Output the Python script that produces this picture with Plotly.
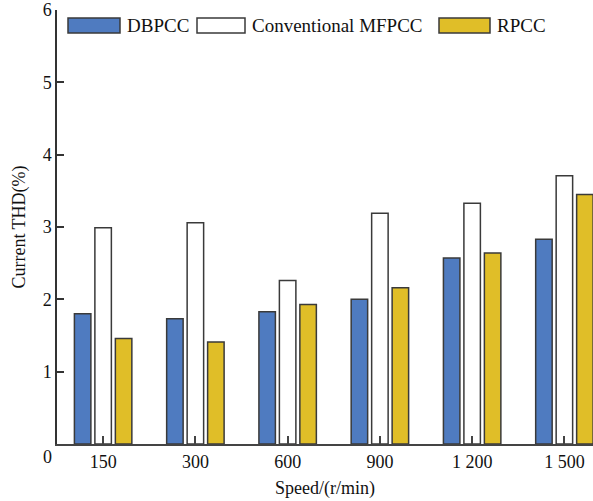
import plotly.graph_objects as go

categories = ["150", "300", "600", "900", "1 200", "1 500"]
series_names = ["DBPCC", "Conventional MFPCC", "RPCC"]
dbpcc = [1.80, 1.73, 1.83, 2.00, 2.57, 2.83]
mfpcc = [2.99, 3.06, 2.26, 3.19, 3.33, 3.71]
rpcc = [1.46, 1.41, 1.93, 2.16, 2.64, 3.45]
y_ticks = [1, 2, 3, 4, 5, 6]

colors = ["#4F7BC0", "#FFFFFF", "#E0BE28"]
values = [dbpcc, mfpcc, rpcc]
FONT = "Liberation Serif, Times New Roman, serif"

W, H = 593, 501
L, R, T, B = 57, 0, 10, 56.5
pw, ph = W - L - R, H - T - B

def px_x(px):
    return (px - L) / pw

def px_y(py):
    return (H - B - py) / ph

fig = go.Figure()
for name, vals, col in zip(series_names, values, colors):
    fig.add_trace(go.Bar(
        x=categories, y=vals, name=name,
        marker=dict(color=col, line=dict(color="#3a3a3a", width=1.5)),
        showlegend=False,
    ))

# manual legend (large swatches like the reference)
legend_items = [
    (series_names[0], colors[0], 68, 120, 125),
    (series_names[1], colors[1], 197, 245, 250),
    (series_names[2], colors[2], 439, 490, 495),
]
for name, col, x0, x1, tx in legend_items:
    fig.add_shape(type="rect", xref="paper", yref="paper",
                  x0=px_x(x0), x1=px_x(x1), y0=px_y(33), y1=px_y(18),
                  fillcolor=col, line=dict(color="#3a3a3a", width=1.5))
    fig.add_annotation(xref="paper", yref="paper", x=px_x(tx), y=px_y(26),
                       text=name, showarrow=False, xanchor="left", yanchor="middle",
                       font=dict(family=FONT, size=19, color="#111"))

# origin "0" label
fig.add_annotation(xref="paper", yref="paper", x=px_x(47), y=px_y(458),
                   text="0", showarrow=False, xanchor="center", yanchor="middle",
                   font=dict(family=FONT, size=18, color="#111"))

fig.update_layout(
    width=W, height=H,
    margin=dict(l=L, r=R, t=T, b=B),
    plot_bgcolor="white", paper_bgcolor="white",
    barmode="group", bargap=0.334, bargroupgap=0.195,
    font=dict(family=FONT, size=18, color="#111"),
    xaxis=dict(
        type="category", range=[-0.5, 5.31],
        showline=True, linecolor="#444", linewidth=2,
        ticks="inside", ticklen=8, tickcolor="#444", tickwidth=1.5,
        tickfont=dict(family=FONT, size=18),
        title=dict(text="Speed/(r/min)", font=dict(family=FONT, size=18), standoff=11),
        showgrid=False, zeroline=False,
    ),
    yaxis=dict(
        range=[0, 6], tickvals=y_ticks,
        showline=True, linecolor="#333", linewidth=1.5,
        ticks="inside", ticklen=7, tickcolor="#333", tickwidth=1.5,
        tickfont=dict(family=FONT, size=18),
        title=dict(text="Current THD(%)", font=dict(family=FONT, size=18), standoff=12),
        showgrid=False, zeroline=False,
    ),
)

fig.write_html("out.html")
